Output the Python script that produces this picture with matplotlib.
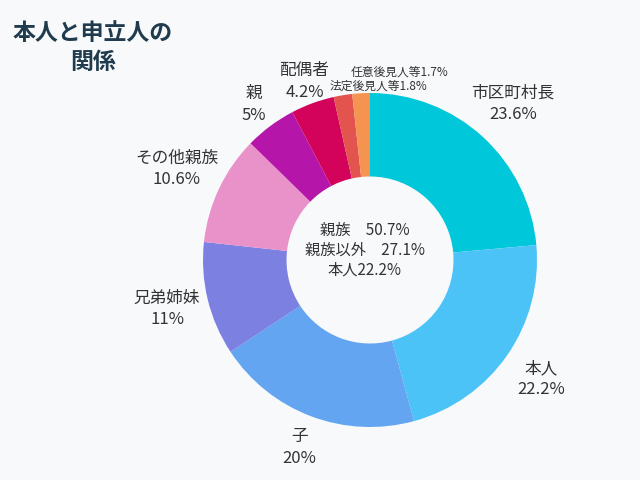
import numpy as np
import matplotlib.pyplot as plt

plt.rcParams['font.family'] = ['Noto Sans CJK JP', 'DejaVu Sans']

# data, clockwise from 12 o'clock
labels = ['市区町村長', '本人', '子', '兄弟姉妹', 'その他親族', '親', '配偶者',
          '法定後見人等', '任意後見人等']
pct_text = ['23.6%', '22.2%', '20%', '11%', '10.6%', '5%', '4.2%', '1.8%', '1.7%']
values = [23.6, 22.2, 20, 11, 10.6, 5, 4.2, 1.8, 1.7]
colors = ['#00c7d9', '#4cc3f7', '#63a5f1', '#7b80e1', '#e991c9', '#b515a8',
          '#d3035c', '#e2544d', '#f59350']

center_lines = ['親族　50.7%', '親族以外　27.1%', '本人22.2%']
title_lines = ['本人と申立人の', '関係']

bg = '#f8f9fb'
txt = '#333333'

fig = plt.figure(figsize=(6.4, 4.8), dpi=100, facecolor=bg)

# donut centre at (370, 260) px, outer radius ~167 px
cx, cy, R = 370, 260, 167
ax = fig.add_axes([(cx - R) / 640, (480 - cy - R) / 480, 2 * R / 640, 2 * R / 480])
ax.set_facecolor(bg)

wedges, _ = ax.pie(values, colors=colors, startangle=90, counterclock=False,
                   radius=1.0, wedgeprops=dict(width=0.5, linewidth=0))
ax.set_xlim(-1, 1)
ax.set_ylim(-1, 1)
ax.set_aspect('equal')
ax.axis('off')

# outside labels along mid angle of each wedge
dist = [1.27, 1.25, 1.2, 1.25, 1.28, 1.16, 1.14]
for i, w in enumerate(wedges[:7]):
    mid = np.deg2rad((w.theta1 + w.theta2) / 2)
    x, y = dist[i] * np.cos(mid), dist[i] * np.sin(mid)
    ax.text(x, y, labels[i] + '\n' + pct_text[i], ha='center', va='center',
            fontsize=12, color=txt, linespacing=1.35, clip_on=False)

# the two thin slices get a small one-line label above the ring
small_pos = [(0.05, 1.04), (0.18, 1.125)]
for i, (x, y) in zip([7, 8], small_pos):
    ax.text(x, y, labels[i] + pct_text[i], ha='center', va='center',
            fontsize=8.5, color=txt, clip_on=False)

ax.text(-0.03, 0.06, '\n'.join(center_lines), ha='center', va='center',
        fontsize=11, color=txt, linespacing=1.2)

fig.text(93 / 640, 1 - 48 / 480, '\n'.join(title_lines), ha='center', va='center',
         fontsize=16.5, fontweight='bold', color='#1f3b4d', linespacing=1.3)

fig.savefig('out.png', dpi=100, facecolor=bg)
